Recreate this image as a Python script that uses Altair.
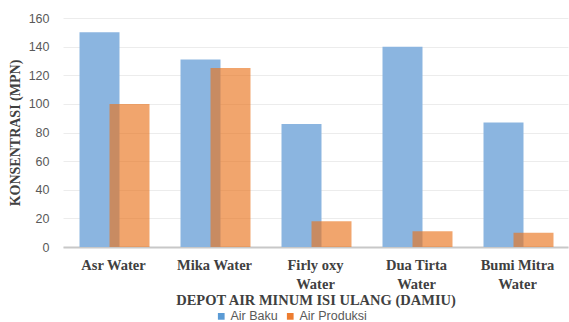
import altair as alt
import pandas as pd

categories = ["Asr Water", "Mika Water", "Firly oxy Water", "Dua Tirta Water", "Bumi Mitra Water"]
air_baku = [150, 131, 86, 140, 87]
air_produksi = [100, 125, 18, 11, 10]
series_names = ["Air Baku", "Air Produksi"]
y_ticks = [0, 20, 40, 60, 80, 100, 120, 140, 160]

df = pd.DataFrame({
    "depot": categories * 2,
    "seri": [series_names[0]] * 5 + [series_names[1]] * 5,
    "nilai": air_baku + air_produksi,
})

label_expr = ("length(datum.label) > 10 ? [replace(datum.label, ' Water', ''), 'Water'] : datum.label")

x_enc = alt.X("depot:N", sort=categories, scale=alt.Scale(paddingInner=0, paddingOuter=0),
              axis=alt.Axis(title="DEPOT AIR MINUM ISI ULANG (DAMIU)", labelAngle=0,
                            labelExpr=label_expr, labelFont="Liberation Serif",
                            labelFontWeight="bold", labelFontSize=14.5, labelColor="#404040",
                            labelLineHeight=19, labelPadding=18, labelBaseline="middle",
                            ticks=False, domainColor="#c8c8c8", domainWidth=2,
                            titleFont="Liberation Serif", titleFontWeight="bold",
                            titleFontSize=14.5, titleColor="#404040", titlePadding=3))
y_enc = alt.Y("nilai:Q", scale=alt.Scale(domain=[0, 160], nice=False),
              axis=alt.Axis(title="KONSENTRASI (MPN)", values=y_ticks, ticks=False, domain=False,
                            labelFont="Liberation Sans", labelFontSize=12.5, labelColor="#595959",
                            labelPadding=14, gridColor="#ececec", gridWidth=1,
                            titleFont="Liberation Serif", titleFontWeight="bold",
                            titleFontSize=14, titleColor="#404040", titlePadding=6))

color_enc = alt.Color("seri:N", scale=alt.Scale(domain=series_names, range=["#5B9BD5", "#ED7D31"]),
                      legend=alt.Legend(title=None, orient="none", direction="horizontal",
                                        legendX=152, legendY=292, symbolType="square",
                                        symbolSize=45, symbolOpacity=1, labelOffset=3,
                                        labelFont="Liberation Sans", labelFontSize=12.5,
                                        labelColor="#595959", columnPadding=6))

bar_color = alt.Color("seri:N", scale=alt.Scale(domain=series_names, range=["#8BB5E0", "#E9741E"]),
                      legend=None)

baku = alt.Chart(df).transform_filter(alt.datum.seri == "Air Baku").mark_bar(
    width=40, xOffset=-14).encode(x=x_enc, y=y_enc, color=bar_color)
produksi = alt.Chart(df).transform_filter(alt.datum.seri == "Air Produksi").mark_bar(
    width=40, xOffset=16, opacity=0.65).encode(x=x_enc, y=y_enc, color=bar_color)
legend_layer = alt.Chart(df).mark_point(opacity=0, filled=True, shape="square").encode(
    x=x_enc, y=y_enc, color=color_enc)

chart = alt.layer(baku, produksi, legend_layer).resolve_scale(color="independent").properties(
    width=505, height=229,
    autosize=alt.AutoSizeParams(type="none"),
    padding={"left": 63, "top": 18, "right": 1, "bottom": 75},
).configure_view(stroke=None)

chart.save("out.html", embed_options={"renderer": "svg", "actions": False})
